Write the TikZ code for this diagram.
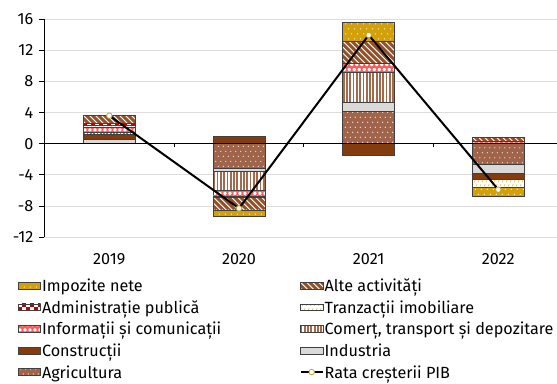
\documentclass[tikz,border=0pt]{standalone}
\usepackage{fontspec}
\setmainfont{Fira Sans}
\definecolor{cImp}{RGB}{212,160,8}
\definecolor{cAlte}{RGB}{150,80,40}
\definecolor{cAdm}{RGB}{192,0,0}
\definecolor{cTr}{RGB}{240,190,30}
\definecolor{cInf}{RGB}{255,90,90}
\definecolor{cCom}{RGB}{165,105,75}
\definecolor{cCons}{RGB}{132,60,12}
\definecolor{cInd}{RGB}{217,217,217}
\definecolor{cAgr}{RGB}{160,100,75}
\definecolor{cGrid}{RGB}{222,222,222}
\definecolor{cMk}{RGB}{200,160,40}
\tikzset{
  segline/.style={draw=black!75,line width=0.6pt},
  gridline/.style={cGrid,line width=0.75pt},
  axisline/.style={black,line width=1.3pt},
  gdpline/.style={black,line width=2pt},
  mk/.style={circle,draw=cMk,fill=white,line width=0.8pt,minimum size=5.5pt,inner sep=0pt},
  ticklab/.style={anchor=east,inner sep=0pt,font=\fontsize{16.2}{18}\selectfont},
  yearlab/.style={anchor=base,inner sep=0pt,font=\fontsize{16.2}{18}\selectfont},
  leglab/.style={anchor=base west,inner sep=0pt,font=\fontsize{16.2}{18}\selectfont},
}
% pattern fills, drawn inside a clip over (\bxl,\bylo)--(\bxr,\byhi)
\newcommand{\patImp}{\fill[cImp] (\bxl,\bylo) rectangle (\bxr,\byhi);
  \foreach \yy in {0,5,...,40}{\foreach \xx in {0,6,...,54}{
    \fill[white] ({\bxl+\xx+mod(\yy,10)*0.6},{\bylo+\yy+2}) circle (0.6pt);}}}
\newcommand{\patAgr}{\fill[cAgr] (\bxl,\bylo) rectangle (\bxr,\byhi);
  \foreach \yy in {0,5,...,40}{\foreach \xx in {0,5,...,55}{
    \fill[white] ({\bxl+\xx+mod(\yy,10)/2},{\bylo+\yy+1.5}) circle (0.6pt);}}}
\newcommand{\patAlte}{\fill[white] (\bxl,\bylo) rectangle (\bxr,\byhi);
  \foreach \k in {-60,-54,...,54}{
    \draw[cAlte,line width=3pt] ({\bxl+\k},{\byhi+3}) -- ++(64,-64);}}
\newcommand{\patAdm}{\fill[white] (\bxl,\bylo) rectangle (\bxr,\byhi);
  \foreach \yy in {0,8,...,32}{\foreach \xx in {0,8,...,48}{
    \fill[cAdm] ({\bxl+\xx},{\bylo+\yy}) rectangle ++(4,4);
    \fill[cAdm] ({\bxl+\xx+4},{\bylo+\yy+4}) rectangle ++(4,4);}}}
\newcommand{\patTr}{\fill[white] (\bxl,\bylo) rectangle (\bxr,\byhi);
  \foreach \yy in {0,4,...,24}{\foreach \xx in {0,4,...,52}{
    \draw[cTr,line width=0.6pt] ({\bxl+\xx+mod(\yy,8)/2},{\bylo+\yy+0.8}) -- ++(0.8,2);}}}
\newcommand{\patInf}{\fill[cInf] (\bxl,\bylo) rectangle (\bxr,\byhi);
  \foreach \yy in {0,5,...,20}{\foreach \xx in {0,5,...,55}{
    \fill[white,rounded corners=1pt] ({\bxl+\xx+mod(\yy,10)/2},{\bylo+\yy+1}) rectangle ++(3.2,3);}}}
\newcommand{\patCom}{\fill[white] (\bxl,\bylo) rectangle (\bxr,\byhi);
  \foreach \xx in {0,3.3,...,53}{
    \fill[cCom] ({\bxl+\xx},\bylo) rectangle ++(1.8,{\byhi-\bylo});}}
\newcommand{\patCons}{\fill[cCons] (\bxl,\bylo) rectangle (\bxr,\byhi);}
\newcommand{\patInd}{\fill[cInd] (\bxl,\bylo) rectangle (\bxr,\byhi);}
% bar segment: #1 left x, #2 low value, #3 high value, #4 kind
\newcommand{\bseg}[4]{%
  \pgfmathsetmacro{\bxl}{#1}\pgfmathsetmacro{\bxr}{#1+52}%
  \pgfmathsetmacro{\bylo}{239.3+7.79*(#2)}%
  \pgfmathsetmacro{\byhi}{239.3+7.79*(#3)}%
  \begin{scope}\clip (\bxl,\bylo) rectangle (\bxr,\byhi);\csname pat#4\endcsname\end{scope}%
  \draw[segline] (\bxl,\bylo) rectangle (\bxr,\byhi);}
% legend swatch: #1 left x, #2 centre y, #3 kind
\newcommand{\legsw}[3]{%
  \pgfmathsetmacro{\bxl}{#1}\pgfmathsetmacro{\bxr}{#1+22.4}%
  \pgfmathsetmacro{\bylo}{#2-3.4}\pgfmathsetmacro{\byhi}{#2+3.4}%
  \begin{scope}\clip (\bxl,\bylo) rectangle (\bxr,\byhi);\csname pat#3\endcsname\end{scope}%
  \draw[segline] (\bxl,\bylo) rectangle (\bxr,\byhi);}
\begin{document}
\begin{tikzpicture}[x=1pt,y=1pt]
\useasboundingbox (0,0) rectangle (557,383);
% grid
\foreach \v in {-12,-8,-4,4,8,12,16}{
  \draw[gridline] (44.3,{239.3+7.79*\v}) -- (557,{239.3+7.79*\v});}
% bars 2019
\bseg{83.3}{0}{0.6}{Ind}
\bseg{83.3}{0.6}{1.2}{Cons}
\bseg{83.3}{1.2}{1.45}{Com}
\bseg{83.3}{1.45}{2.1}{Inf}
\bseg{83.3}{2.1}{2.3}{Tr}
\bseg{83.3}{2.3}{2.6}{Adm}
\bseg{83.3}{2.6}{3.65}{Alte}
% 2020
\bseg{213.3}{0}{1.0}{Cons}
\bseg{213.3}{-3.1}{0}{Agr}
\bseg{213.3}{-3.6}{-3.1}{Ind}
\bseg{213.3}{-6.0}{-3.6}{Com}
\bseg{213.3}{-6.7}{-6.0}{Inf}
\bseg{213.3}{-6.85}{-6.7}{Tr}
\bseg{213.3}{-8.5}{-6.85}{Alte}
\bseg{213.3}{-9.3}{-8.5}{Imp}
% 2021
\bseg{342.7}{0}{4.2}{Agr}
\bseg{342.7}{4.2}{5.3}{Ind}
\bseg{342.7}{5.3}{9.2}{Com}
\bseg{342.7}{9.2}{10.35}{Inf}
\bseg{342.7}{10.35}{13.2}{Alte}
\bseg{342.7}{13.2}{15.6}{Imp}
\bseg{342.7}{-1.55}{0}{Cons}
% 2022
\bseg{472.3}{0}{0.35}{Inf}
\bseg{472.3}{0.35}{0.85}{Alte}
\bseg{472.3}{-2.65}{0}{Agr}
\bseg{472.3}{-3.85}{-2.65}{Ind}
\bseg{472.3}{-4.6}{-3.85}{Cons}
\bseg{472.3}{-5.55}{-4.6}{Tr}
\bseg{472.3}{-6.75}{-5.55}{Imp}
% axes
\draw[black,line width=1.5pt] (44.3,239.3) -- (557,239.3);
\foreach \x in {174,303.7,433.3}{\draw[black,line width=1pt] (\x,239.3) -- (\x,235.5);}
\draw[axisline] (44.3,{239.3+7.79*16}) -- (44.3,{239.3-7.79*12});
\foreach \v in {-12,-8,-4,0,4,8,12,16}{
  \draw[black,line width=1pt] (39.3,{239.3+7.79*\v}) -- (44.3,{239.3+7.79*\v});
  \node[ticklab] (t\v) at (33.5,{239.3+7.79*\v}) {\v};}
% year labels
\node[yearlab] (y2019) at (109.3,118) {2019};
\node[yearlab] (y2020) at (239,118) {2020};
\node[yearlab] (y2021) at (368.7,118) {2021};
\node[yearlab] (y2022) at (498.3,118) {2022};
% GDP growth line
\coordinate (c19) at (109.3,{239.3+7.79*3.6});
\coordinate (c20) at (239,{239.3+7.79*(-8.3)});
\coordinate (c21) at (368.7,{239.3+7.79*13.95});
\coordinate (c22) at (498.3,{239.3+7.79*(-5.9)});
\draw[gdpline] (c19) -- (c20) -- (c21) -- (c22);
\node[mk] (g19) at (c19) {};
\node[mk] (g20) at (c20) {};
\node[mk] (g21) at (c21) {};
\node[mk] (g22) at (c22) {};
% legend
\legsw{18.3}{97.3}{Imp}  \node[leglab] (l1) at (41.8,91.3) {Impozite nete};
\legsw{18.3}{75.7}{Adm}  \node[leglab] (l2) at (41.8,69.7) {Administrație publică};
\legsw{18.3}{54.1}{Inf}  \node[leglab] (l3) at (41.8,48.1) {Informații și comunicații};
\legsw{18.3}{32.5}{Cons} \node[leglab] (l4) at (41.8,26.5) {Construcții};
\legsw{18.3}{10.9}{Agr}  \node[leglab] (l5) at (41.8,4.9) {Agricultura};
\legsw{300.5}{97.3}{Alte} \node[leglab] (r1) at (324.5,91.3) {Alte activități};
\legsw{300.5}{75.7}{Tr}   \node[leglab] (r2) at (324.5,69.7) {Tranzacții imobiliare};
\legsw{300.5}{54.1}{Com}  \node[leglab] (r3) at (324.5,48.1) {Comerț, transport și depozitare};
\legsw{300.5}{32.5}{Ind}  \node[leglab] (r4) at (324.5,26.5) {Industria};
\coordinate (la) at (300.5,10.9);
\coordinate (lb) at (323,10.9);
\draw[gdpline] (la) -- (lb);
\node[mk] (lm) at (311.7,10.9) {};
\node[leglab] (r5) at (324.5,4.9) {Rata creșterii PIB};
\end{tikzpicture}
\end{document}
